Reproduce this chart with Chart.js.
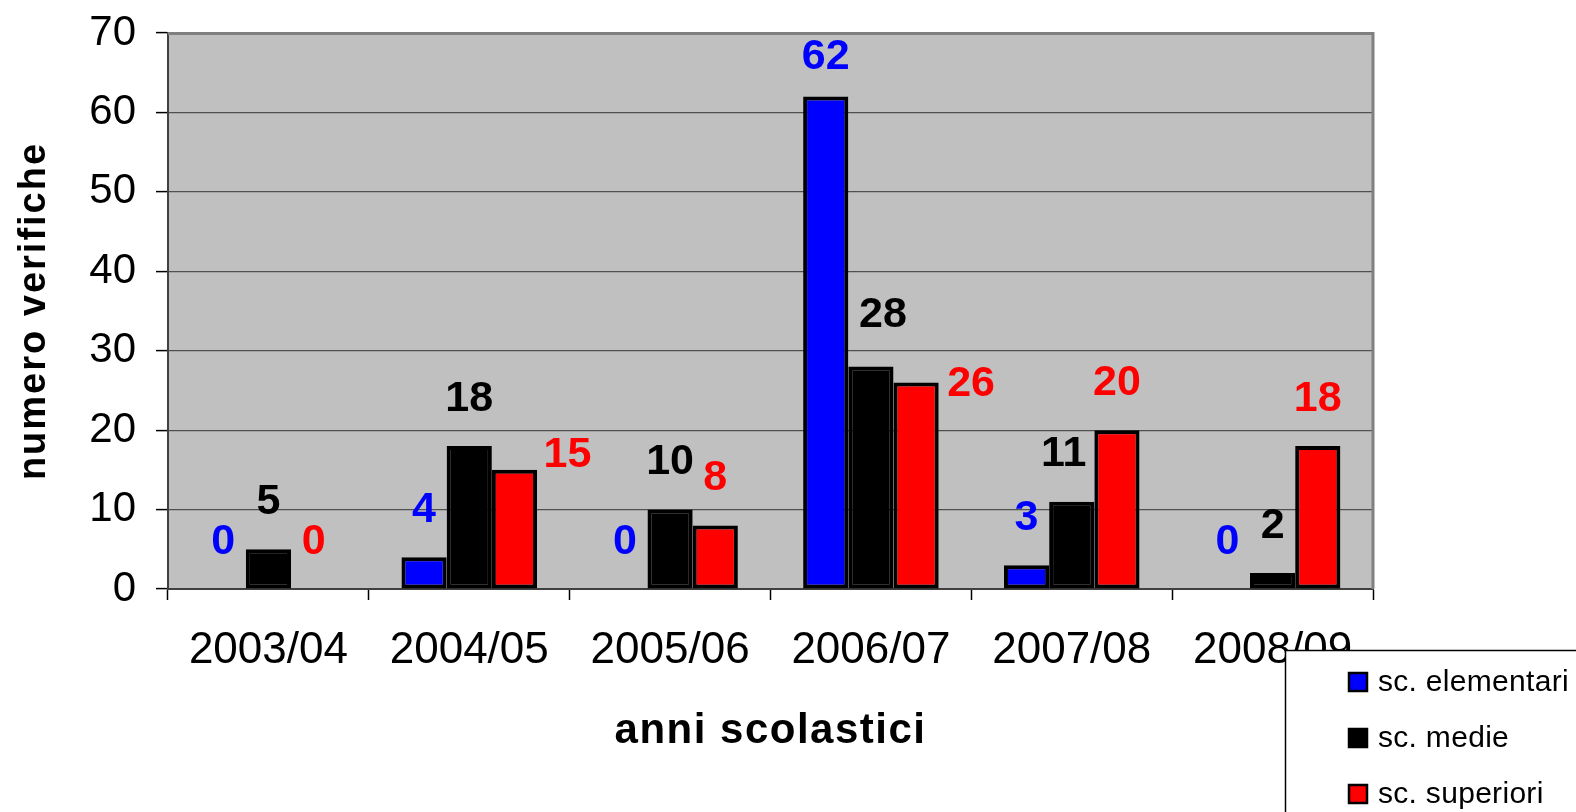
<!DOCTYPE html>
<html><head><meta charset="utf-8">
<script src="https://cdn.jsdelivr.net/npm/chart.js@4/dist/chart.umd.min.js"></script>
<style>html,body{margin:0;padding:0;background:#fff;overflow:hidden}#wrap{width:1576px;height:812px}</style>
</head><body><div id="wrap"><canvas id="c" width="1576" height="812"></canvas></div>
<script>
const categories = ['2003/04', '2004/05', '2005/06', '2006/07', '2007/08', '2008/09'];
const elementari = [0, 4, 0, 62, 3, 0];
const medie = [5, 18, 10, 28, 11, 2];
const superiori = [0, 15, 8, 26, 20, 18];
const seriesNames = ['sc. elementari', 'sc. medie', 'sc. superiori'];
const seriesColors = ['#0000FF', '#000000', '#FF0000'];
const yMin = 0, yMax = 70, yStep = 10;

const FONT = "'Liberation Sans', Arial, sans-serif";

// manual nudges of some value labels (dataset:index -> [dx, dy]) as in the original
const labelNudge = { '2:1': [53, 32], '1:3': [12, -4], '2:3': [55, 49], '1:4': [-8, 0], '0:3': [0, 8] };

const bgPlugin = {
  id: 'bg',
  afterLayout(chart) {
    // wider letter spacing for axis titles, as in the original
    const spacing = { x: '1.5px', y: '2px' };
    Object.keys(spacing).forEach(k => {
      const s = chart.scales[k];
      if (s && !s._lsPatched) {
        const orig = s.drawTitle;
        s.drawTitle = function () {
          const ctx = this.ctx;
          ctx.save();
          ctx.letterSpacing = spacing[k];
          orig.apply(this, arguments);
          ctx.restore();
        };
        s._lsPatched = true;
      }
    });
  },
  beforeDraw(chart) {
    const { ctx, chartArea: a } = chart;
    ctx.save();
    ctx.fillStyle = '#C0C0C0';
    ctx.fillRect(a.left, a.top, a.right - a.left, a.bottom - a.top);
    ctx.restore();
  },
  afterDatasetsDraw(chart) {
    const { ctx, chartArea: a } = chart;
    ctx.save();
    ctx.strokeStyle = '#808080';
    ctx.lineWidth = 3;
    ctx.beginPath();
    ctx.moveTo(a.left, a.top + 0.5);
    ctx.lineTo(a.right, a.top + 0.5);
    ctx.lineTo(a.right, a.bottom);
    ctx.stroke();
    ctx.restore();
  }
};

const labelPlugin = {
  id: 'vlabels',
  afterDatasetsDraw(chart) {
    const { ctx } = chart;
    ctx.save();
    ctx.font = 'bold 43px ' + FONT;
    ctx.textAlign = 'center';
    ctx.textBaseline = 'middle';
    chart.data.datasets.forEach((ds, di) => {
      const meta = chart.getDatasetMeta(di);
      meta.data.forEach((el, i) => {
        const n = labelNudge[di + ':' + i] || [0, 0];
        ctx.fillStyle = seriesColors[di];
        ctx.fillText(String(ds.data[i]), el.x + n[0], el.y - 47 + n[1]);
      });
    });
    ctx.restore();
  }
};

const legendPlugin = {
  id: 'boxlegend',
  afterDraw(chart) {
    const { ctx } = chart;
    ctx.save();
    ctx.fillStyle = '#FFFFFF';
    ctx.fillRect(1285, 650, 400, 300);
    ctx.strokeStyle = '#000000';
    ctx.lineWidth = 1.5;
    ctx.strokeRect(1285.5, 650.5, 400, 300);
    ctx.font = '30px ' + FONT;
    ctx.letterSpacing = '0.3px';
    ctx.textBaseline = 'middle';
    ctx.textAlign = 'left';
    chart.data.datasets.forEach((ds, i) => {
      const cy = 682 + i * 56;
      ctx.fillStyle = ds.backgroundColor;
      ctx.fillRect(1349, cy - 9, 18, 18);
      ctx.lineWidth = 2.5;
      ctx.strokeStyle = '#000';
      ctx.strokeRect(1349, cy - 9, 18, 18);
      ctx.fillStyle = '#000';
      ctx.fillText(ds.label, 1378, cy + 1);
    });
    ctx.restore();
  }
};

const allSeries = [elementari, medie, superiori];
new Chart(document.getElementById('c'), {
  type: 'bar',
  data: {
    labels: categories,
    datasets: allSeries.map((d, i) => ({
      label: seriesNames[i],
      data: d,
      backgroundColor: seriesColors[i],
      borderColor: '#000000',
      borderWidth: 4,
      borderSkipped: false,
      categoryPercentage: 0.675,
      barPercentage: 1.0
    }))
  },
  options: {
    responsive: false,
    animation: false,
    devicePixelRatio: 1,
    layout: { padding: { left: 0, top: 33, right: 203, bottom: 0 } },
    plugins: { legend: { display: false }, tooltip: { enabled: false } },
    scales: {
      x: {
        offset: true,
        grid: { display: true, drawOnChartArea: false, offset: true, tickLength: 11, tickColor: '#000', tickWidth: 1.5 },
        border: { display: true, color: '#404040', width: 2 },
        ticks: { color: '#000', font: { family: FONT, size: 44 }, padding: 24, maxRotation: 0, autoSkip: false },
        title: { display: true, text: 'anni scolastici', color: '#000', font: { family: FONT, size: 42, weight: 'bold' }, padding: { top: 0, bottom: 55 } },
        afterFit(s) { s.height = 223; s.paddingLeft = 0; s.paddingRight = 0; }
      },
      y: {
        min: yMin, max: yMax,
        grid: { color: '#505050', lineWidth: 1.2, tickLength: 12, tickColor: '#000', tickWidth: 1.5 },
        border: { display: true, color: '#404040', width: 2 },
        ticks: { stepSize: yStep, color: '#000', font: { family: FONT, size: 42 }, padding: 20 },
        title: { display: true, text: 'numero verifiche', color: '#000', font: { family: FONT, size: 38, weight: 'bold' }, padding: { top: 12, bottom: 0 } },
        afterFit(s) { s.width = 168; s.paddingTop = 0; s.paddingBottom = 0; }
      }
    }
  },
  plugins: [bgPlugin, labelPlugin, legendPlugin]
});
</script></body></html>
